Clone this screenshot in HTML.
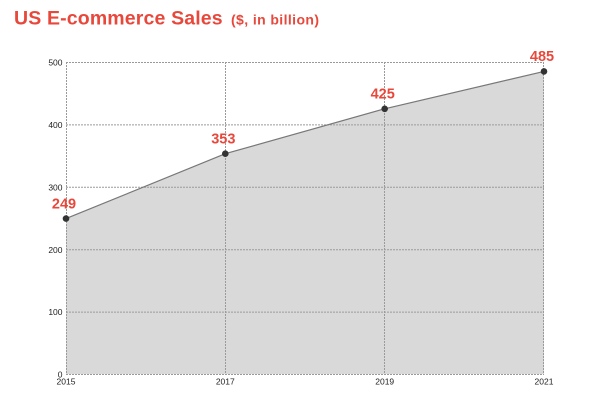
<!DOCTYPE html>
<html>
<head>
<meta charset="utf-8">
<style>
html,body{margin:0;padding:0;background:#fff;}
body{width:600px;height:400px;overflow:hidden;}
svg{display:block;}
</style>
</head>
<body>
<svg width="600" height="400" viewBox="0 0 600 400" xmlns="http://www.w3.org/2000/svg">
  <text x="14" y="24.5" font-family="Liberation Sans, Arial, sans-serif" font-weight="bold" font-size="19.5" letter-spacing="0.15" fill="#e8483b">US E-commerce Sales</text>
  <text x="231" y="24.5" font-family="Liberation Sans, Arial, sans-serif" font-weight="bold" font-size="14" letter-spacing="0.4" fill="#e8483b">($, in billion)</text>

  <!-- area -->
  <polygon points="66,218.6 225.3,153.7 384.7,108.8 544,71.4 544,374 66,374" fill="#d9d9d9"/>

  <!-- grid -->
  <g stroke="#9a9a9a" stroke-width="1" stroke-dasharray="2,1" fill="none">
    <line x1="66" y1="62.5" x2="544" y2="62.5"/>
    <line x1="66" y1="124.9" x2="544" y2="124.9"/>
    <line x1="66" y1="187.3" x2="544" y2="187.3"/>
    <line x1="66" y1="249.7" x2="544" y2="249.7"/>
    <line x1="66" y1="312.1" x2="544" y2="312.1"/>
    <line x1="66" y1="374.5" x2="544" y2="374.5"/>
    <line x1="66.5" y1="62" x2="66.5" y2="374"/>
    <line x1="225.5" y1="62" x2="225.5" y2="374"/>
    <line x1="384.5" y1="62" x2="384.5" y2="374"/>
    <line x1="543.5" y1="62" x2="543.5" y2="374"/>
  </g>

  <!-- line -->
  <polyline points="66,218.6 225.3,153.7 384.7,108.8 544,71.4" fill="none" stroke="#777" stroke-width="1.2"/>
  <g fill="#333">
    <circle cx="66" cy="218.6" r="3.3"/>
    <circle cx="225.3" cy="153.7" r="3.3"/>
    <circle cx="384.7" cy="108.8" r="3.3"/>
    <circle cx="544" cy="71.4" r="3.3"/>
  </g>

  <!-- data labels -->
  <g font-family="Liberation Sans, Arial, sans-serif" font-weight="bold" font-size="14.5" fill="#e8483b" text-anchor="middle">
    <text x="64" y="208.5">249</text>
    <text x="223.3" y="143.5">353</text>
    <text x="382.7" y="98.6">425</text>
    <text x="542" y="61.2">485</text>
  </g>

  <!-- y ticks -->
  <g font-family="Liberation Sans, Arial, sans-serif" font-size="8.5" fill="#222" text-anchor="end">
    <text x="62.5" y="65.5">500</text>
    <text x="62.5" y="128">400</text>
    <text x="62.5" y="190.4">300</text>
    <text x="62.5" y="252.8">200</text>
    <text x="62.5" y="315.2">100</text>
    <text x="62.5" y="377.5">0</text>
  </g>
  <!-- x ticks -->
  <g font-family="Liberation Sans, Arial, sans-serif" font-size="8.5" fill="#222" text-anchor="middle">
    <text x="66" y="384.5">2015</text>
    <text x="225.3" y="384.5">2017</text>
    <text x="384.7" y="384.5">2019</text>
    <text x="544" y="384.5">2021</text>
  </g>
</svg>
</body>
</html>
